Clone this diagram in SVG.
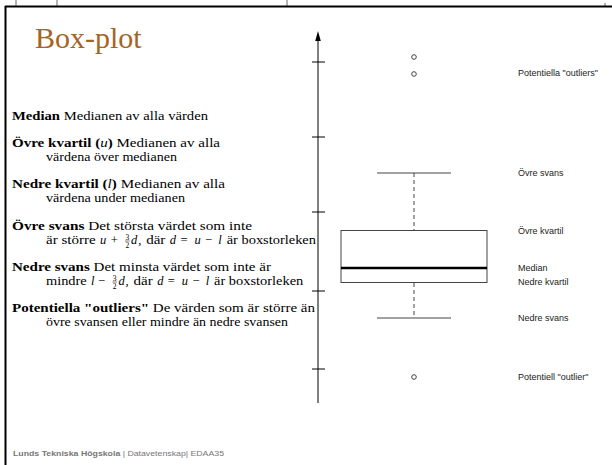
<svg xmlns="http://www.w3.org/2000/svg" width="612" height="465" viewBox="0 0 612 465">
<style>
.t{font-family:"Liberation Serif","Times New Roman",serif;font-size:12.5px;fill:#000}
.b{font-weight:bold}
.i{font-style:italic}
.fr{font-family:"Liberation Serif","Times New Roman",serif;font-size:7.5px;fill:#000}
.lab{font-family:"Liberation Sans",Arial,sans-serif;font-size:9px;fill:#222}
.g{stroke:#444;stroke-width:1;fill:none}
</style>
<rect width="612" height="465" fill="#fff"/>
<g id="frame" stroke="#000">
<line x1="5" y1="6.5" x2="612" y2="6.5" stroke-width="2"/>
<line x1="5.5" y1="6" x2="5.5" y2="465" stroke-width="2"/>
<line x1="16" y1="0" x2="16" y2="6" stroke-width="0.6"/>
<line x1="57" y1="0" x2="57" y2="6" stroke-width="0.6"/>
<line x1="287" y1="0" x2="287" y2="6" stroke-width="0.6"/>
<line x1="605" y1="3" x2="605" y2="6" stroke-width="0.6"/>
</g>
<text id="title" x="35" y="48" font-family="Liberation Serif,'Times New Roman',serif" font-size="30" fill="#A5651F">Box-plot</text>
<g id="definitions">
<text class="t" x="12" y="120" textLength="196" lengthAdjust="spacingAndGlyphs"><tspan class="b">Median</tspan>  Medianen av alla värden</text>
<text class="t" x="12" y="147" textLength="208" lengthAdjust="spacingAndGlyphs"><tspan class="b">Övre kvartil (</tspan><tspan class="i">u</tspan><tspan class="b">)</tspan> Medianen av alla</text>
<text class="t" x="46" y="161" textLength="131" lengthAdjust="spacingAndGlyphs">värdena över medianen</text>
<text class="t" x="12" y="188" textLength="213" lengthAdjust="spacingAndGlyphs"><tspan class="b">Nedre kvartil (</tspan><tspan class="i">l</tspan><tspan class="b">)</tspan> Medianen av alla</text>
<text class="t" x="46" y="202" textLength="139" lengthAdjust="spacingAndGlyphs">värdena under medianen</text>
<text class="t" x="12" y="230" textLength="240" lengthAdjust="spacingAndGlyphs"><tspan class="b">Övre svans</tspan> Det största värdet som inte</text>
<g id="line-ovre-svans-2">
<text class="t" x="46" y="244" textLength="49.7" lengthAdjust="spacingAndGlyphs">är större</text>
<text class="t i" x="100.1" y="244">u</text>
<text class="t" x="110.7" y="244">+</text>
<text class="fr" x="125.4" y="239.6">3</text>
<text class="fr" x="125.4" y="248">2</text>
<line x1="125" y1="241" x2="129.6" y2="241" stroke="#000" stroke-width="0.5"/>
<text class="t i" x="131.1" y="244">d</text>
<text class="t" x="138.2" y="244">,</text>
<text class="t" x="146.2" y="244" textLength="19.2" lengthAdjust="spacingAndGlyphs">där</text>
<text class="t i" x="169.8" y="244">d</text>
<text class="t" x="180.4" y="244">=</text>
<text class="t i" x="194.4" y="244">u</text>
<text class="t" x="205" y="244">−</text>
<text class="t i" x="218.3" y="244">l</text>
<text class="t" x="226.7" y="244" textLength="89.3" lengthAdjust="spacingAndGlyphs">är boxstorleken</text>
</g>
<text class="t" x="12" y="271" textLength="259" lengthAdjust="spacingAndGlyphs"><tspan class="b">Nedre svans</tspan> Det minsta värdet som inte är</text>
<g id="line-nedre-svans-2">
<text class="t" x="46" y="285" textLength="40.7" lengthAdjust="spacingAndGlyphs">mindre</text>
<text class="t i" x="91.1" y="285">l</text>
<text class="t" x="98.1" y="285">−</text>
<text class="fr" x="112.8" y="280.6">3</text>
<text class="fr" x="112.8" y="289">2</text>
<line x1="112.4" y1="282" x2="117" y2="282" stroke="#000" stroke-width="0.5"/>
<text class="t i" x="118.5" y="285">d</text>
<text class="t" x="125.5" y="285">,</text>
<text class="t" x="133.5" y="285" textLength="19.2" lengthAdjust="spacingAndGlyphs">där</text>
<text class="t i" x="157.2" y="285">d</text>
<text class="t" x="167.8" y="285">=</text>
<text class="t i" x="181.8" y="285">u</text>
<text class="t" x="192.4" y="285">−</text>
<text class="t i" x="205.7" y="285">l</text>
<text class="t" x="214" y="285" textLength="89.3" lengthAdjust="spacingAndGlyphs">är boxstorleken</text>
</g>
<text class="t" x="12" y="312" textLength="303" lengthAdjust="spacingAndGlyphs"><tspan class="b">Potentiella "outliers"</tspan> De värden som är större än</text>
<text class="t" x="46" y="326" textLength="242" lengthAdjust="spacingAndGlyphs">övre svansen eller mindre än nedre svansen</text>
</g>
<g id="axis" stroke="#000" stroke-width="1">
<line x1="318" y1="38" x2="318" y2="403"/>
<polygon points="318,31 315.2,41 320.8,41" fill="#000" stroke="none"/>
<line x1="312" y1="62" x2="325" y2="62"/>
<line x1="312" y1="137" x2="325" y2="137"/>
<line x1="312" y1="212" x2="325" y2="212"/>
<line x1="312" y1="291" x2="325" y2="291"/>
<line x1="312" y1="369" x2="325" y2="369"/>
</g>
<g id="boxplot">
<line class="g" x1="377" y1="173" x2="451" y2="173"/>
<line class="g" x1="414" y1="173" x2="414" y2="230" stroke-dasharray="4 3"/>
<rect class="g" x="341" y="230.5" width="146" height="52"/>
<line x1="341" y1="268" x2="487" y2="268" stroke="#000" stroke-width="2.5"/>
<line class="g" x1="414" y1="283" x2="414" y2="318" stroke-dasharray="4 3"/>
<line class="g" x1="377" y1="318" x2="451" y2="318"/>
<circle class="g" cx="414" cy="57" r="2.3"/>
<circle class="g" cx="414" cy="74" r="2.3"/>
<circle class="g" cx="414" cy="377" r="2.3"/>
</g>
<g id="labels">
<text class="lab" x="518" y="76">Potentiella "outliers"</text>
<text class="lab" x="518" y="176">Övre svans</text>
<text class="lab" x="518" y="234">Övre kvartil</text>
<text class="lab" x="518" y="271">Median</text>
<text class="lab" x="518" y="285">Nedre kvartil</text>
<text class="lab" x="518" y="321">Nedre svans</text>
<text class="lab" x="518" y="380">Potentiell "outlier"</text>
</g>
<text id="footer" x="13" y="456" font-family="Liberation Sans,Arial,sans-serif" font-size="7" fill="#777" textLength="211" lengthAdjust="spacingAndGlyphs"><tspan font-weight="bold">Lunds Tekniska Högskola</tspan> | Datavetenskap| EDAA35</text>
</svg>
